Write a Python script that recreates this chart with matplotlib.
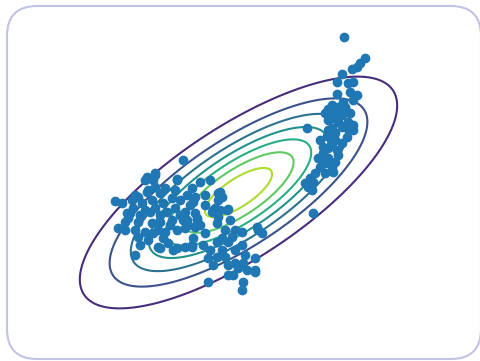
import numpy as np
import matplotlib
matplotlib.use("Agg")
import matplotlib.pyplot as plt
from matplotlib.patches import FancyBboxPatch
from matplotlib.transforms import IdentityTransform

xs_upper = [5.22, 6.25, 6.0, 5.84, 5.62, 5.09, 4.84, 5.42, 5.67, 5.5, 4.84, 5.84,
            5.67, 5.17, 4.59, 4.42, 4.92, 5.25, 4.25, 4.75, 5.09, 5.34, 4.42, 4.92,
            5.42, 5.67, 5.67, 5.34, 3.34, 4.59, 4.75, 4.34, 5.34, 4.0, 5.09, 4.59,
            4.42, 4.84, 4.17, 3.92, 4.42, 4.75, 4.25, 4.0, 4.59, 4.25, 4.67, 3.75,
            3.5, 3.67, 3.25, 3.42, 3.59, 3.67, 4.67, 5.09, 5.5, 4.75, 4.42, 4.17, 4.92]
ys_upper = [7.14, 6.09, 5.84, 5.67, 5.54, 5.29, 4.92, 4.84, 4.92, 4.42, 4.3, 4.25,
            4.0, 3.92, 3.75, 3.54, 3.64, 3.67, 3.34, 3.34, 3.25, 3.42, 3.0, 2.92,
            2.92, 2.75, 2.5, 2.59, 2.59, 2.59, 2.34, 2.2, 2.17, 2.0, 1.84, 1.84,
            1.59, 1.5, 1.34, 1.09, 1.09, 0.92, 0.84, 0.67, 0.67, 0.34, 0.42, 0.34,
            0.09, -0.09, -0.17, -0.34, -0.5, -1.67, 3.09, 2.67, 3.34, 2.0, 2.5, 1.67, 1.25]

xs_lower = [-4.25, -4.34, -4.75, -3.17, -2.84, -6.25, -5.89, -5.42, -5.09, -4.67,
            -4.25, -4.0, -4.42, -4.92, -5.34, -5.5, -4.75, -4.25, -3.84, -3.42,
            -3.67, -3.25, -3.0, -2.67, -2.42, -2.75, -3.42, -4.0, -4.42, -5.09,
            -6.09, -5.75, -5.25, -4.75, -4.34, -3.75, -3.17, -2.75, -2.67, -5.09,
            -4.59, -3.84, -3.59, -4.09, -5.0, -3.17, -2.75, -2.34, -2.25, -2.34,
            -5.25, -5.67, -4.67, -4.25, -3.17, -4.0, -3.34, -2.42,
            -2.0, -1.5, -1.09, -0.92, -2.25, -2.25, -2.17, -1.25, -1.0, -0.67,
            -1.42, -1.09, -0.5, -1.17, -2.0, -2.59, -1.75, -0.75, -0.25, 0.09,
            0.92, 1.09, -2.42, -1.84, -1.17, -0.59, -0.92, -0.25, 0.09, -1.59,
            -1.17, -0.75, 0.75, -1.34, -0.59, -0.25, 0.17, 0.34, 0.75, -0.59,
            -0.34, -1.59, 0.17, 0.09, -1.09, -1.34, -0.59, -2.17, -2.84, 0.84,
            0.75, -1.0,
            -5.6, -5.0, -4.5, -4.0, -3.5, -3.0, -5.25, -3.75, -3.25, -4.6,
            -5.75, -4.1, -2.5, -1.75, -1.75, -0.9, -0.4, -1.5, 0.25, -0.1]
ys_lower = [0.25, 0.0, 0.0, 0.04, 1.0, -1.04, -1.17, -1.0, -0.84, -0.59,
            -0.34, -0.67, -1.0, -1.17, -1.42, -1.67, -1.5, -1.42, -1.17, -0.92,
            -1.59, -1.42, -1.0, -0.75, -0.42, -1.59, -2.0, -2.09, -2.17, -2.09,
            -2.42, -2.5, -2.5, -2.59, -2.67, -2.59, -2.5, -2.42, -2.0, -2.84,
            -3.0, -2.92, -3.17, -3.34, -3.25, -3.42, -3.34, -2.92, -2.34, -1.09,
            -3.75, -1.67, 0.17, 0.34, 0.0, -3.42, -3.5, -3.34,
            -0.09, 0.0, -0.67, -0.84, -0.84, -1.67, -1.92, -1.42, -1.5, -1.5,
            -1.59, -1.84, -2.0, -2.17, -2.25, -2.25, -2.67, -2.5, -2.5, -2.59,
            -2.5, -2.67, -3.25, -3.25, -3.09, -3.09, -3.5, -3.5, -3.25, -3.92,
            -3.84, -3.84, -3.92, -4.25, -4.25, -4.17, -4.17, -4.5, -4.5, -4.75,
            -4.75, -5.09, -5.09, -5.5, -1.0, -1.5, -1.47, -2.0, -2.0, -2.34,
            -4.59, -0.59,
            -1.9, -1.75, -1.6, -1.75, -2.25, -1.75, -0.75, -0.4, -0.5, -0.5,
            -2.1, -2.5, -1.25, -1.25, -0.75, -2.9, -2.85, -3.5, -3.75, -4.4]

# fitted gaussian
mean = np.array([-0.075, -0.625])
std_x, std_y, rho = 3.93, 2.87, 0.75
# contour levels as fractions of the peak density
level_steps = np.arange(1, 8)
peak_over_step = 7.67

cov = np.array([[std_x**2, rho * std_x * std_y],
                [rho * std_x * std_y, std_y**2]])

gx, gy = np.meshgrid(np.linspace(-12, 12, 400), np.linspace(-9.05, 9.0, 300))
d = np.dstack([gx - mean[0], gy - mean[1]])
inv = np.linalg.inv(cov)
m = np.einsum('...i,ij,...j->...', d, inv, d)
z = np.exp(-0.5 * m) / (2 * np.pi * np.sqrt(np.linalg.det(cov)))

levels = z.max() * level_steps / peak_over_step
colors = plt.cm.viridis(level_steps / 8)

fig = plt.figure(figsize=(4.8, 3.61), dpi=100)
ax = fig.add_axes([0, 0, 1, 1])
ax.contour(gx, gy, z, levels=levels, colors=colors, linewidths=1.5)
ax.scatter(xs_lower + xs_upper, ys_lower + ys_upper, s=36, c='#1f77b4', zorder=3)
ax.set_xlim(-12, 12)
ax.set_ylim(-9.05, 9.0)
ax.axis('off')

# rounded frame around the picture
frame = FancyBboxPatch((7, 2), 474, 353, boxstyle="round,pad=0,rounding_size=30",
                       transform=IdentityTransform(), facecolor='none',
                       edgecolor='#c2c2e6', linewidth=1.5)
fig.patches.append(frame)

fig.savefig("out.png", dpi=100)
